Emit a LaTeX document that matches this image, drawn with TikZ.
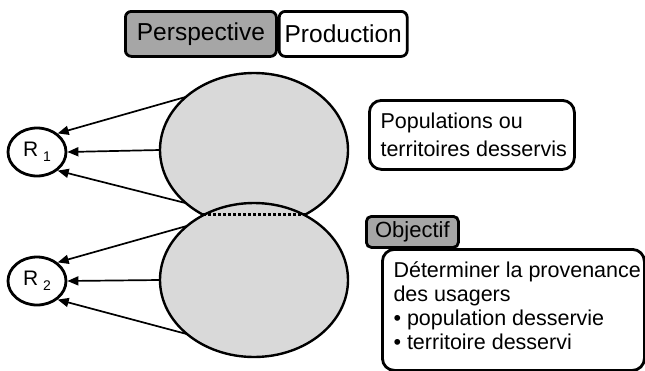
\documentclass[tikz,border=0pt]{standalone}
\usepackage{fontspec}
\setmainfont{Liberation Sans}
\usetikzlibrary{shapes.geometric,arrows.meta}

\definecolor{blobgray}{HTML}{D9D9D9}
\definecolor{tabgray}{HTML}{A6A6A6}

\tikzset{
  tab/.style={draw=black, line width=2.8pt, rounded corners=6pt, inner sep=0pt,
    font=\fontsize{24.5}{28}\selectfont},
  infobox/.style={draw=black, line width=2.8pt, rounded corners=12pt, inner sep=0pt,
    align=left, anchor=north west},
  blob/.style={ellipse, draw=black, fill=blobgray, line width=2.4pt, inner sep=0pt,
    outer sep=0pt, minimum width=188pt, minimum height=154pt},
  region/.style={ellipse, draw=black, fill=white, line width=2.8pt, inner sep=0pt,
    minimum width=58pt, minimum height=48pt, font=\fontsize{21}{21}\selectfont},
  flow/.style={line width=1.7pt, -{Triangle[length=11pt,width=9pt]}},
}

\newcommand{\rlabel}[1]{R\hspace{5pt}\raisebox{-5pt}{\fontsize{14}{14}\selectfont #1}}

\begin{document}
\begin{tikzpicture}[x=1pt,y=-1pt]
  \useasboundingbox (0,0) rectangle (645,370);

  % header tabs
  \node[tab, fill=tabgray, minimum width=151pt, minimum height=45pt, anchor=north west]
    (persp) at (124,10) {Perspective};
  \node[tab, fill=white, minimum width=128pt, minimum height=45pt, anchor=west]
    (prod) at (persp.east) {Production};

  % the two overlapping areas
  \node[blob] (E1) at (254,150) {};
  \node[blob, minimum height=154pt] (E2) at (254,280) {};
  \coordinate (c1) at (E1.232);
  \coordinate (c2) at (E1.308);
  \draw[line width=3pt, dash pattern=on 2.5pt off 2.5pt] (c1) -- (c2);

  % regions
  \node[region] (R1) at (37,152) {\rlabel{1}};
  \node[region] (R2) at (37,281) {\rlabel{2}};

  \draw[flow] (E1.142) -- (R1.42);
  \draw[flow] (E1.west) -- (R1.east);
  \draw[flow] (E1.218) -- (R1.-42);
  \draw[flow] (E2.141) -- (R2.42);
  \draw[flow] (E2.west) -- (R2.east);
  \draw[flow] (E2.219) -- (R2.-42);

  % right-hand boxes
  \node[infobox, minimum width=205pt, minimum height=69pt] (pop) at (368,99) {};
  \node[anchor=west, align=left, font=\fontsize{21.5}{28}\selectfont]
    (poptext) at (377,135) {Populations ou\\territoires desservis};

  \node[infobox, minimum width=262pt, minimum height=121pt] (goal) at (381,248) {};
  \node[anchor=north west, align=left, font=\fontsize{21.5}{24}\selectfont]
    (goaltext) at (390,258) {Déterminer la provenance\\des usagers\\• population desservie\\• territoire desservi};

  \node[tab, fill=tabgray, rounded corners=5pt, minimum width=92pt, minimum height=31pt,
    anchor=north west, font=\fontsize{22}{26}\selectfont] (obj) at (365,215) {Objectif};
\end{tikzpicture}
\end{document}
